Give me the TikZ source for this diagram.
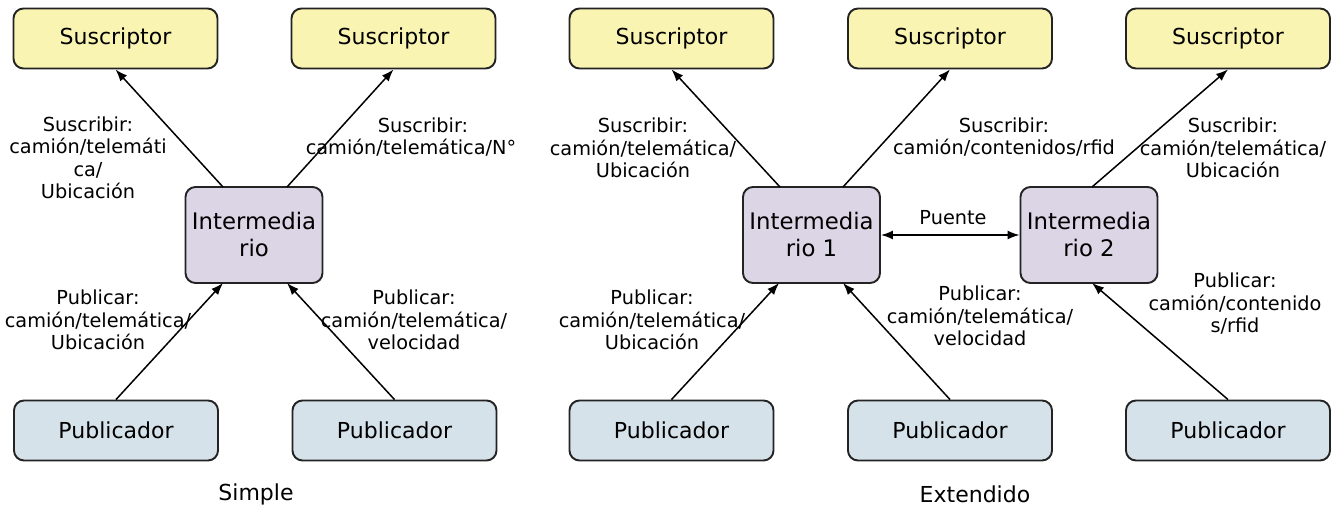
\documentclass[tikz,border=0pt]{standalone}
\usepackage{fontspec}
\setmainfont{DejaVu Sans}
\usetikzlibrary{arrows.meta}
\definecolor{subfill}{RGB}{250,244,178}
\definecolor{midfill}{RGB}{220,213,229}
\definecolor{pubfill}{RGB}{214,226,234}
\definecolor{edge}{RGB}{35,35,35}
\tikzset{
  boxbase/.style={draw=edge, line width=1.9pt, rounded corners=10pt, inner sep=0pt, font=\fontsize{22}{24}\selectfont, align=center},
  subbox/.style={boxbase, fill=subfill, minimum width=204pt, minimum height=60pt},
  pubbox/.style={boxbase, fill=pubfill, minimum width=204pt, minimum height=60pt},
  midbox/.style={boxbase, fill=midfill, minimum width=137pt, minimum height=96pt, font=\fontsize{22.8}{27}\selectfont},
  lbl/.style={inner sep=0pt, align=center, font=\fontsize{19.3}{22.5}\selectfont},
  captiontext/.style={inner sep=0pt, font=\fontsize{22}{24}\selectfont},
  conn/.style={draw=black, line width=1.5pt, -{Latex[length=12pt,width=9pt]}},
  bconn/.style={draw=black, line width=1.5pt, {Latex[length=12pt,width=9pt]}-{Latex[length=12pt,width=9pt]}}
}
\begin{document}
\begin{tikzpicture}[x=1pt,y=-1pt]
\useasboundingbox (0,0) rectangle (1333,510);
% Simple
\node[subbox] (s1) at (115.5,38.5) {Suscriptor};
\node[subbox] (s2) at (393.5,38.5) {Suscriptor};
\node[midbox] (m) at (254,235) {Intermedia\\rio};
\node[pubbox] (p1) at (116,430.5) {Publicador};
\node[pubbox] (p2) at (394.5,430.5) {Publicador};
\coordinate (mt1) at (223,187);
\coordinate (mt2) at (287,187);
\coordinate (mb1) at (223,283);
\coordinate (mb2) at (287,283);
\draw[conn] (mt1) -- (s1.south);
\draw[conn] (mt2) -- (s2.south);
\draw[conn] (p1.north) -- (mb1);
\draw[conn] (p2.north) -- (mb2);
\node[lbl] (l1) at (88,158) {Suscribir:\\camión/telemáti\\ca/\\Ubicación};
\node[lbl] (l2) at (411,137) {\hspace*{24pt}Suscribir:\\camión/telemática/N°};
\node[lbl] (l3) at (98,320) {Publicar:\\camión/telemática/\\Ubicación};
\node[lbl] (l4) at (414,320) {Publicar:\\camión/telemática/\\velocidad};
\node[captiontext] (c1) at (256,494) {Simple};
% Extendido
\node[subbox] (s3) at (671.5,38.5) {Suscriptor};
\node[subbox] (s4) at (950,38.5) {Suscriptor};
\node[subbox] (s5) at (1228,38.5) {Suscriptor};
\node[midbox] (m1) at (811.5,235) {Intermedia\\rio 1};
\node[midbox] (m2) at (1089,235) {Intermedia\\rio 2};
\node[pubbox] (p3) at (671.5,430.5) {Publicador};
\node[pubbox] (p4) at (950,430.5) {Publicador};
\node[pubbox] (p5) at (1228,430.5) {Publicador};
\coordinate (m1t1) at (780,187);
\coordinate (m1t2) at (843,187);
\coordinate (m1b1) at (779,283);
\coordinate (m1b2) at (843,283);
\coordinate (m2t) at (1092,187);
\coordinate (m2b) at (1092,283);
\draw[conn] (m1t1) -- (s3.south);
\draw[conn] (m1t2) -- (s4.south);
\draw[conn] (m2t) -- (s5.south);
\draw[conn] (p3.north) -- (m1b1);
\draw[conn] (p4.north) -- (m1b2);
\draw[conn] (p5.north) -- (m2b);
\draw[bconn] (m1.east) -- (m2.west);
\node[lbl] (l5) at (643,148) {Suscribir:\\camión/telemática/\\Ubicación};
\node[lbl] (l6) at (1004,137) {Suscribir:\\camión/contenidos/rfid};
\node[lbl] (l7) at (1233,148) {Suscribir:\\camión/telemática/\\Ubicación};
\node[lbl] (l8) at (953,218) {Puente};
\node[lbl] (l9) at (652,320) {Publicar:\\camión/telemática/\\Ubicación};
\node[lbl] (l10) at (980,316) {Publicar:\\camión/telemática/\\velocidad};
\node[lbl] (l11) at (1235,304) {Publicar:\\camión/contenido\\s/rfid};
\node[captiontext] (c2) at (975,494) {Extendido};
\end{tikzpicture}
\end{document}
